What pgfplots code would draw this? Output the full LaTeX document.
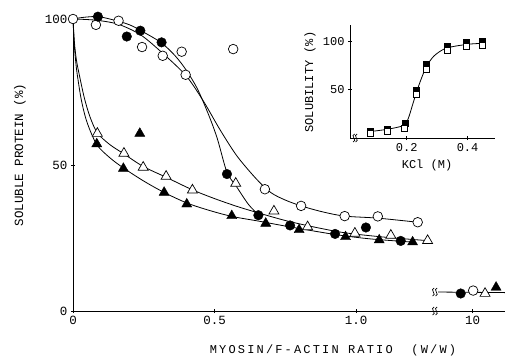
\documentclass[border=0pt]{standalone}
\usepackage{fontspec}
\setmainfont{Liberation Mono}
\newfontfamily\widefont[LetterSpace=18]{Liberation Mono}
\usepackage{pgfplots}
\pgfplotsset{compat=1.18}
\begin{document}
\begin{tikzpicture}[x=1pt,y=1pt]
\useasboundingbox (0,0) rectangle (505,357);
% ---------------- main axis ----------------
% right-hand segment (after the break) is drawn in plot units: 10 -> 1.412
\begin{axis}[
  at={(73pt,46pt)}, anchor=south west, scale only axis,
  width=432pt, height=292pt,
  xmin=0, xmax=1.5265, ymin=0, ymax=100,
  axis x line=bottom, axis y line=left,
  axis line style={-, line width=0.9pt},
  xtick={0,0.5,1.0,1.412}, xticklabels={0,0.5,1.0,10},
  ytick={0,50,100},
  tick style={black, line width=0.8pt}, major tick length=4pt,
  tick label style={font=\fontsize{12.5}{14}\selectfont},
  /pgf/number format/assume math mode=true,
  clip=false,
]
% fitted curves
\addplot[black, line width=0.8pt, smooth, no marks] coordinates {
 (0,100) (0.04,100.6) (0.09,100.8) (0.15,99.5) (0.2,98) (0.24,96) (0.31,92)
 (0.36,87.5) (0.40,82.5) (0.44,76) (0.48,67) (0.51,59) (0.544,47.5) (0.575,43)
 (0.62,36.5) (0.655,33)};
\addplot[black, line width=0.8pt, smooth, no marks] coordinates {
 (0,100) (0.08,99.6) (0.16,98.2) (0.24,94.5) (0.32,88) (0.40,80.5) (0.46,72)
 (0.52,62) (0.58,53) (0.65,45) (0.70,40.5) (0.75,38) (0.806,36) (0.88,34)
 (0.96,32.5) (1.077,31.8) (1.218,30.4)};
\addplot[black, line width=0.8pt, smooth, no marks] coordinates {
 (0,100) (0.005,92) (0.012,86) (0.022,81) (0.04,73) (0.06,66.5) (0.086,61)
 (0.13,57) (0.18,53.8) (0.248,49.5) (0.329,45.8) (0.422,41.5) (0.5,38.5)
 (0.58,35.8) (0.655,33.6) (0.75,31) (0.85,28.8) (0.96,26.8) (1.1,25.3) (1.253,24.1)};
\addplot[black, line width=0.8pt, smooth, no marks] coordinates {
 (0,100) (0.004,92) (0.009,86) (0.015,81) (0.03,72) (0.05,64.5) (0.084,57)
 (0.13,52.5) (0.178,49) (0.25,44.5) (0.322,40.6) (0.402,37) (0.48,34.5)
 (0.561,32.4) (0.655,30.8) (0.767,28.8) (0.926,26.2) (1.05,24.7) (1.2,23.6)};
\addplot[black, line width=0.8pt, no marks] coordinates {(1.29,6.5) (1.5265,6.3)};
% data points
\addplot[only marks, mark=triangle*, mark size=5.8pt, mark options={fill=white, draw=black, line width=0.7pt}] coordinates {
 (0.086,60.8) (0.18,54) (0.248,49.2) (0.329,46.1) (0.422,41.4) (0.575,43.7)
 (0.71,34.2) (0.829,28.8) (0.996,26.6) (1.123,25.9) (1.253,24.1) (1.456,6)};
\addplot[only marks, mark=triangle*, mark size=5.8pt, mark options={fill=black, draw=black}] coordinates {
 (0.084,57.2) (0.178,48.8) (0.236,60.8) (0.322,40.6) (0.402,36.6) (0.561,32.6)
 (0.681,30) (0.799,27.8) (0.963,25.4) (1.082,24.3) (1.2,23.6) (1.495,8.1)};
\addplot[only marks, mark=*, mark size=4.8pt, mark options={fill=white, draw=black, line width=0.7pt}] coordinates {
 (0,100) (0.081,98) (0.161,99.4) (0.244,90.4) (0.317,87.4) (0.384,88.8)
 (0.398,80.9) (0.566,89.7) (0.678,41.7) (0.806,36) (0.96,32.5) (1.077,32.4)
 (1.218,30.4) (1.414,7)};
\addplot[only marks, mark=*, mark size=4.8pt, mark options={fill=black, draw=black}] coordinates {
 (0.088,100.8) (0.19,94) (0.238,96) (0.313,92) (0.544,46.9) (0.655,32.8)
 (0.767,29.3) (0.926,26.4) (1.035,28.6) (1.158,24) (1.370,6)};
% axis breaks
\draw[line width=0.7pt] ([shift={(-3.5pt,-4pt)}]axis cs:1.283,0) .. controls +(5pt,1pt) and +(-5pt,-1pt) .. ++(1.5pt,8pt);
\draw[line width=0.7pt] ([shift={(-0.5pt,-4pt)}]axis cs:1.283,0) .. controls +(5pt,1pt) and +(-5pt,-1pt) .. ++(1.5pt,8pt);
\draw[line width=0.7pt] ([shift={(-3.5pt,-4pt)}]axis cs:1.283,6.5) .. controls +(5pt,1pt) and +(-5pt,-1pt) .. ++(1.5pt,8pt);
\draw[line width=0.7pt] ([shift={(-0.5pt,-4pt)}]axis cs:1.283,6.5) .. controls +(5pt,1pt) and +(-5pt,-1pt) .. ++(1.5pt,8pt);
\end{axis}
\node[rotate=90, font=\fontsize{12.5}{14}\selectfont] at (20,202) {SOLUBLE PROTEIN (\%)};
\node[font=\widefont\fontsize{12}{14}\selectfont] at (333,7) {MYOSIN/F-ACTIN RATIO~~(W/W)};
% ---------------- inset ----------------
\begin{axis}[
  at={(350pt,219pt)}, anchor=south west, scale only axis,
  width=145pt, height=113.3pt,
  xmin=0.014, xmax=0.49, ymin=0, ymax=117.3,
  axis x line=bottom, axis y line=left,
  axis line style={-, line width=0.9pt},
  xtick={0.2,0.4}, xticklabels={0.2,0.4},
  ytick={50,100},
  tick style={black, line width=0.8pt}, major tick length=4pt,
  tick label style={font=\fontsize{12}{14}\selectfont},
  /pgf/number format/assume math mode=true,
  clip=false,
]
\addplot[black, line width=0.8pt, smooth, no marks] coordinates {
 (0.075,6.5) (0.136,9) (0.19,13) (0.205,20) (0.22,35) (0.235,50) (0.25,63)
 (0.265,74) (0.29,85) (0.33,93) (0.4,97) (0.45,98)};
\addplot[only marks, mark=square*, mark size=3pt, mark options={fill=black, draw=black}] coordinates {
 (0.08,7.5) (0.136,9) (0.194,15) (0.232,50) (0.265,76) (0.334,95) (0.397,99.5) (0.448,100.5)};
\addplot[only marks, mark=square*, mark size=3pt, mark options={fill=white, draw=black, line width=0.7pt}] coordinates {
 (0.08,5) (0.136,7) (0.194,10) (0.232,45.5) (0.265,71) (0.334,91) (0.397,94.8) (0.448,96)};
\draw[line width=0.7pt] ([shift={(-3pt,-4pt)}]axis cs:0.034,0) .. controls +(5pt,1pt) and +(-5pt,-1pt) .. ++(1.5pt,8pt);
\draw[line width=0.7pt] ([shift={(-0.5pt,-4pt)}]axis cs:0.034,0) .. controls +(5pt,1pt) and +(-5pt,-1pt) .. ++(1.5pt,8pt);
\end{axis}
\node[rotate=90, font=\fontsize{12}{14}\selectfont] at (310,275) {SOLUBILITY (\%)};
\node[font=\fontsize{12}{14}\selectfont] at (427,192) {KCl (M)};
\end{tikzpicture}
\end{document}
